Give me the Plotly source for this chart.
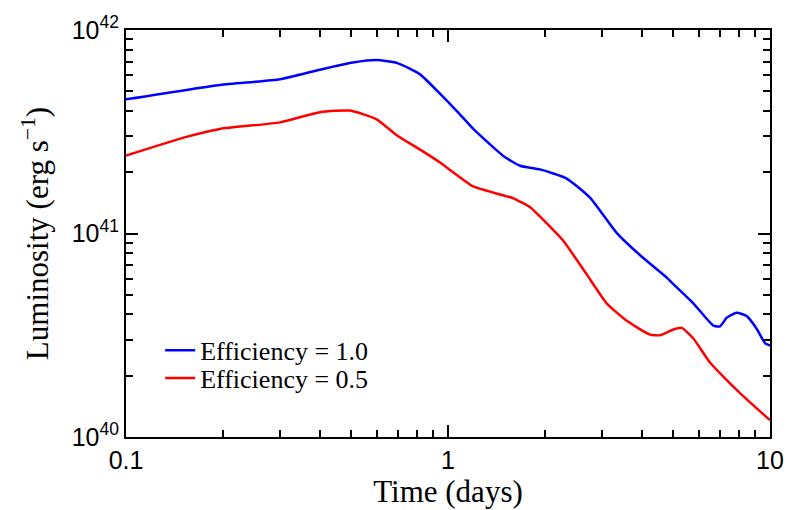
import plotly.graph_objects as go

# Light curves (time in days, luminosity in erg/s) for two efficiencies
t_eff10 = [0.1, 0.196, 0.301, 0.400, 0.507, 0.60, 0.70, 0.819, 0.944, 1.089, 1.198,
           1.485, 1.673, 1.931, 2.337, 2.76, 3.34, 3.95, 4.78, 5.01, 5.78, 6.67,
           7.0, 7.34, 7.88, 8.47, 9.09, 9.65, 10.0]
logL_eff10 = [41.659, 41.730, 41.758, 41.805, 41.840, 41.852, 41.836, 41.782, 41.687,
              41.585, 41.514, 41.381, 41.333, 41.315, 41.270, 41.176, 41.003, 40.893,
              40.783, 40.751, 40.657, 40.547, 40.544, 40.586, 40.610, 40.594, 40.532,
              40.461, 40.449]

t_eff05 = [0.1, 0.154, 0.196, 0.301, 0.400, 0.496, 0.60, 0.693, 0.819, 0.944, 1.198,
           1.45, 1.596, 1.798, 2.074, 2.281, 2.697, 3.11, 3.59, 4.24, 4.55, 5.01,
           5.32, 5.78, 6.51, 7.51, 8.67, 10.0]
logL_eff05 = [41.383, 41.475, 41.514, 41.546, 41.596, 41.604, 41.561, 41.483, 41.412,
              41.349, 41.231, 41.192, 41.173, 41.129, 41.034, 40.964, 40.799, 40.657,
              40.571, 40.503, 40.500, 40.528, 40.536, 40.484, 40.366, 40.264, 40.170,
              40.083]

series_names = ["Efficiency = 1.0", "Efficiency = 0.5"]
series_colors = ["#0000ff", "#ff0000"]

x_major = [0.1, 1, 10]
x_major_text = ["0.1", "1", "10"]
x_minor = [m * d for d in (0.1, 1) for m in range(2, 10)]
y_major = [1e40, 1e41, 1e42]
y_major_text = ["10<sup>40</sup>", "10<sup>41</sup>", "10<sup>42</sup>"]
y_minor = [m * d for d in (1e40, 1e41) for m in range(2, 10)]

serif = "Liberation Serif, Times New Roman, serif"
sans = "Liberation Sans, Arial, sans-serif"

fig = go.Figure()
for name, color, t, logL, leg in [
    (series_names[0], series_colors[0], t_eff10, logL_eff10, "legend"),
    (series_names[1], series_colors[1], t_eff05, logL_eff05, "legend2"),
]:
    fig.add_trace(go.Scatter(
        x=t, y=[10 ** v for v in logL], mode="lines", name=name, legend=leg,
        line=dict(color=color, width=2.5, shape="spline", smoothing=0.5),
    ))

axis_common = dict(
    type="log", showgrid=False, zeroline=False, showline=True,
    linecolor="black", linewidth=2, mirror="allticks",
    ticks="inside", ticklen=12, tickwidth=1.5, tickcolor="black",
    tickfont=dict(family=sans, size=25, color="black"),
)

fig.update_xaxes(
    **axis_common, range=[-1, 1], tickvals=x_major, ticktext=x_major_text,
    minor=dict(tickvals=x_minor, ticks="inside", ticklen=7, tickwidth=1.5, tickcolor="black"),
    title=dict(text="Time (days)", font=dict(family=serif, size=31, color="black"), standoff=2),
)
fig.update_yaxes(
    **axis_common, range=[40, 42], tickvals=y_major, ticktext=y_major_text,
    minor=dict(tickvals=y_minor, ticks="inside", ticklen=7, tickwidth=1.5, tickcolor="black"),
    title=dict(text="Luminosity (erg s<sup>\u22121</sup>)",
               font=dict(family=serif, size=31, color="black"), standoff=14),
)

legend_style = dict(xanchor="left", yanchor="middle", bgcolor="rgba(0,0,0,0)",
                    borderwidth=0, itemwidth=30,
                    font=dict(family=serif, size=26, color="black"))

fig.update_layout(
    width=799, height=510,
    margin=dict(l=126, r=29, t=22, b=64),
    paper_bgcolor="white", plot_bgcolor="white",
    showlegend=True,
    legend=dict(x=0.053, y=0.213, **legend_style),
    legend2=dict(x=0.053, y=0.145, **legend_style),
)

fig.write_html("out.html")
